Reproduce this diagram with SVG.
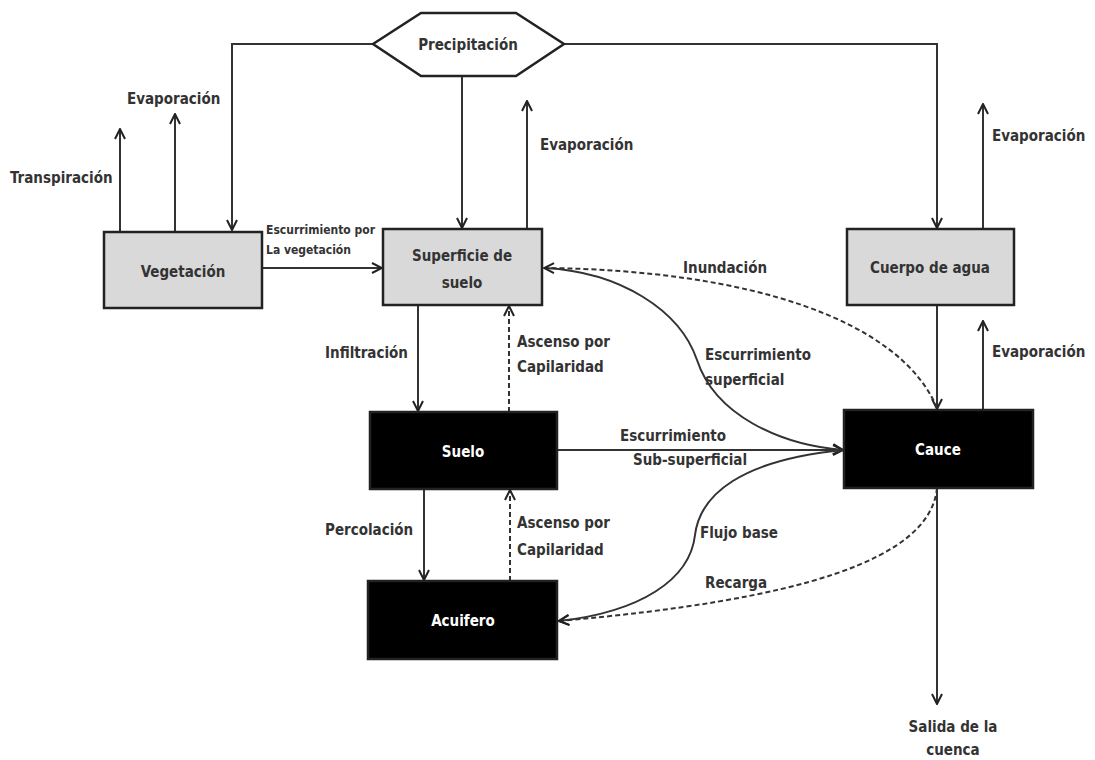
<svg xmlns="http://www.w3.org/2000/svg" width="1095" height="760" viewBox="0 0 1095 760">
<defs>
<marker id="arr" viewBox="0 0 12 12" refX="11" refY="6" markerWidth="12" markerHeight="12" markerUnits="userSpaceOnUse" orient="auto">
<path d="M1,1 L11,6 L1,11" fill="none" stroke="#222" stroke-width="2"/>
</marker>
</defs>
<style>
.bg{fill:#ffffff}
.box{stroke:#222;stroke-width:2.5}
.gray{fill:#d9d9d9}
.black{fill:#000}
.ln{fill:none;stroke:#333;stroke-width:2}
.dash{fill:none;stroke:#333;stroke-width:2;stroke-dasharray:5,3}
text{font-family:"Liberation Sans Narrow","DejaVu Sans Condensed","Liberation Sans",sans-serif;font-weight:bold;font-size:15px;fill:#333}
.c{text-anchor:middle}
.w{fill:#fff}
.s{font-size:12px}
</style>
<rect class="bg" width="1095" height="760"/>
<g id="connectors">
<path class="ln" d="M373,44 H232 V230" marker-end="url(#arr)"/>
<path class="ln" d="M564,44 H937 V228" marker-end="url(#arr)"/>
<path class="ln" d="M462,76 V228" marker-end="url(#arr)"/>
<path class="ln" d="M527,229 V101" marker-end="url(#arr)"/>
<path class="ln" d="M120,232 V129" marker-end="url(#arr)"/>
<path class="ln" d="M175,232 V114" marker-end="url(#arr)"/>
<path class="ln" d="M262,268 H382" marker-end="url(#arr)"/>
<path class="ln" d="M983,229 V104" marker-end="url(#arr)"/>
<path class="ln" d="M937,305 V409" marker-end="url(#arr)"/>
<path class="ln" d="M983,410 V321" marker-end="url(#arr)"/>
<path class="ln" d="M418,305 V411" marker-end="url(#arr)"/>
<path class="dash" d="M509,412 V306" marker-end="url(#arr)"/>
<path class="ln" d="M424,489 V580" marker-end="url(#arr)"/>
<path class="dash" d="M510,581 V490" marker-end="url(#arr)"/>
<path class="ln" d="M557,450 H843" marker-end="url(#arr)"/>
<path class="ln" d="M545,268 C620,272 680,310 697,360 C715,415 780,445 843,450" marker-end="url(#arr)"/>
<path class="dash" d="M937,408 C900,320 750,270 544,268" marker-end="url(#arr)"/>
<path class="ln" d="M844,450 C740,460 700,495 695,535 C690,580 640,612 559,621" marker-end="url(#arr)"/>
<path class="dash" d="M937,488 C930,560 800,600 559,621" marker-end="url(#arr)"/>
<path class="ln" d="M937,488 V704" marker-end="url(#arr)"/>
</g>
<g id="precipitacion">
<polygon points="373,44 421,13 516,13 564,44 516,76 421,76" fill="#fff" stroke="#222" stroke-width="2.5"/>
<text class="c" x="468" y="50">Precipitación</text>
</g>
<g id="vegetacion">
<rect class="box gray" x="104" y="232" width="158" height="76"/>
<text class="c" x="183" y="277">Vegetación</text>
</g>
<g id="superficie">
<rect class="box gray" x="383" y="229" width="159" height="76"/>
<text class="c" x="462" y="261">Superficie de</text>
<text class="c" x="462" y="288">suelo</text>
</g>
<g id="cuerpo">
<rect class="box gray" x="847" y="229" width="167" height="76"/>
<text class="c" x="930" y="273">Cuerpo de agua</text>
</g>
<g id="suelo">
<rect class="box black" x="370" y="412" width="187" height="77"/>
<text class="c w" x="463" y="457">Suelo</text>
</g>
<g id="acuifero">
<rect class="box black" x="368" y="581" width="189" height="78"/>
<text class="c w" x="463" y="626">Acuifero</text>
</g>
<g id="cauce">
<rect class="box black" x="844" y="410" width="189" height="78"/>
<text class="c w" x="938" y="455">Cauce</text>
</g>
<g id="labels">
<text x="10" y="183">Transpiración</text>
<text x="127" y="104">Evaporación</text>
<text class="s" x="266" y="234">Escurrimiento por</text>
<text class="s" x="266" y="254">La vegetación</text>
<text x="540" y="150">Evaporación</text>
<text x="992" y="141">Evaporación</text>
<text x="992" y="357">Evaporación</text>
<text x="683" y="273">Inundación</text>
<text x="325" y="358">Infiltración</text>
<text x="517" y="347">Ascenso por</text>
<text x="517" y="372">Capilaridad</text>
<text x="705" y="360">Escurrimiento</text>
<text x="705" y="385">superficial</text>
<text x="620" y="441">Escurrimiento</text>
<text x="633" y="465">Sub-superficial</text>
<text x="325" y="535">Percolación</text>
<text x="517" y="528">Ascenso por</text>
<text x="517" y="555">Capilaridad</text>
<text x="700" y="538">Flujo base</text>
<text x="705" y="588">Recarga</text>
<text class="c" x="953" y="732">Salida de la</text>
<text class="c" x="953" y="755">cuenca</text>
</g>
</svg>
